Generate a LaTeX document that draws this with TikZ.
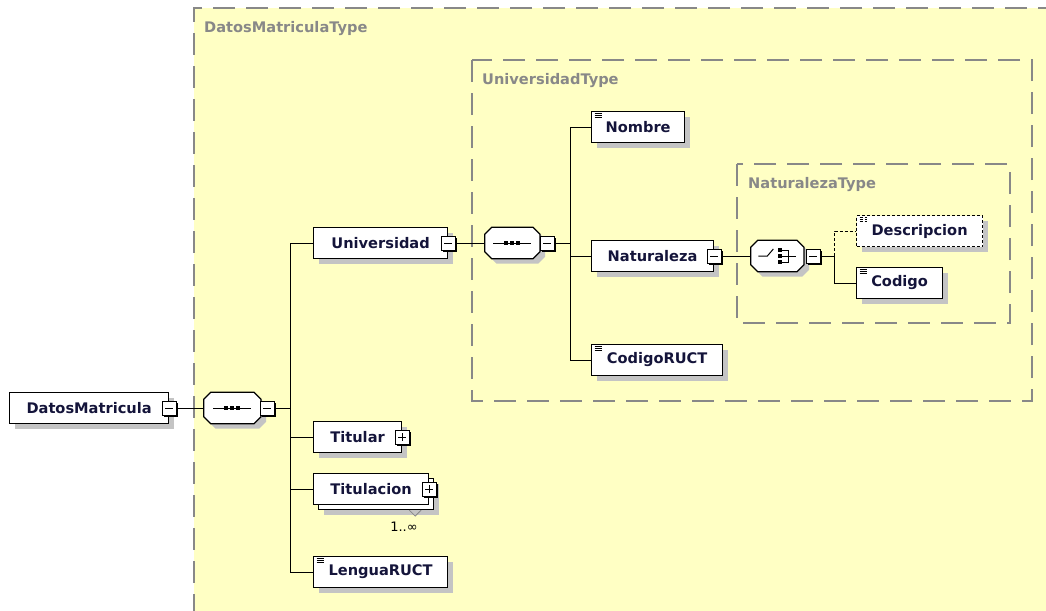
\documentclass[tikz,border=0pt]{standalone}
\usepackage{fontspec}
\usetikzlibrary{positioning,shadows}
\newfontfamily\dejavu{DejaVu Sans}
\definecolor{fondo}{HTML}{FFFFC4}
\definecolor{gris}{HTML}{888888}
\definecolor{sombra}{HTML}{C4C4C4}
\definecolor{tinta}{HTML}{14143A}

\begin{document}
\begin{tikzpicture}[x=1pt,y=-1pt, %Ojo: 1 pixel = 1pt y la y va para abajo (como en la captura)
    sombreado/.style={general shadow={fill=sombra,shadow xshift=5pt,shadow yshift=-5pt}},
    elemento/.style={draw,fill=white,line width=1.2pt,minimum width=#1pt,minimum height=31pt,inner xsep=2pt,anchor=west,
      font=\dejavu\bfseries\fontsize{14.6}{17}\selectfont,text=tinta,sombreado},
    simple/.style={path picture={\foreach \dy in {2pt,4pt,6pt}
      \draw[line width=0.8pt] ([xshift=3pt,yshift=-\dy]path picture bounding box.north west) -- ++(7pt,0pt);}}, %el iconito de las 3 rayas
    opcional/.style={dash pattern=on 3pt off 2pt},
    compositor/.style={minimum width=#1pt,minimum height=31pt,inner sep=0pt}, %solo marca el lugar, el octogono va aparte
    octo/.style={insert path={([xshift=7pt]#1.north west) -- ([xshift=-7pt]#1.north east) -- ([yshift=-7pt]#1.north east)
      -- ([yshift=7pt]#1.south east) -- ([xshift=-7pt]#1.south east) -- ([xshift=7pt]#1.south west)
      -- ([yshift=7pt]#1.south west) -- ([yshift=-7pt]#1.north west) -- cycle}},
    boton/.style={draw,fill=white,line width=0.9pt,minimum size=14pt,inner sep=0pt,
      general shadow={fill=black,shadow xshift=1.5pt,shadow yshift=-1.5pt}},
    menos/.style={boton,path picture={\draw[line width=0.8pt] ([xshift=3pt]path picture bounding box.west) -- ([xshift=-3pt]path picture bounding box.east);}},
    mas/.style={boton,path picture={\draw[line width=0.8pt] ([xshift=3pt]path picture bounding box.west) -- ([xshift=-3pt]path picture bounding box.east);
      \draw[line width=0.8pt] ([yshift=-3pt]path picture bounding box.north) -- ([yshift=3pt]path picture bounding box.south);}},
    tipo/.style={anchor=west,inner sep=0pt,text=gris,font=\dejavu\bfseries\fontsize{14.6}{17}\selectfont},
    marco/.style={draw=gris,line width=1.4pt,dash pattern=on 22pt off 11pt},
    linea/.style={line width=1pt}]
    \useasboundingbox (0,0) rectangle (1046,610);

    %Los marcos de los tipos (el de afuera se sale de la hoja, a proposito)
    \fill[fondo] (194,8) rectangle (1060,620);
    \draw[marco] (1060,8) -- (194,8) -- (194,620);
    \draw[marco] (472,60) rectangle (1032,401);
    \draw[marco] (737,164) rectangle (1010,323);
    \node[tipo] (tdatos) at (204,29) {DatosMatriculaType};
    \node[tipo] (tuniv) at (482,81) {UniversidadType};
    \node[tipo] (tnatu) at (748,185) {NaturalezaType};

    %La raiz y su secuencia
    \node[elemento=159] (datos) at (9,408) {DatosMatricula};
    \node[menos] (m0) at (datos.east) {};
    \node[compositor=57,right=27pt of m0] (sec1) {};
    \fill[sombra,transform canvas={xshift=5pt,yshift=-5pt}] [octo=sec1];
    \filldraw[fill=white,line width=1.2pt] [octo=sec1];
    \node[menos] (ms1) at ([xshift=6pt]sec1.east) {};
    \coordinate[right=16pt of ms1] (bus1);

    %Hijos de DatosMatricula
    \node[elemento=134] (univ) at (313,243) {Universidad};
    \node[menos] (mu) at (univ.east) {};
    \node[elemento=88] (titular) at (313,437) {Titular};
    \node[mas] (mt) at (titular.east) {};
    \node[elemento=115] (titulacion2) at (318,494) {}; %la copia de atras (es 1..infinito)
    \node[sombreado/.style={},elemento=115] (titulacion) at (313,489) {Titulacion}; %esta sin sombra, si no tapa la de atras
    \node[mas] (mtt) at (titulacion.east) {};
    \node[elemento=134,simple] (lengua) at (313,572) {LenguaRUCT};
    \node[inner sep=0pt,font=\dejavu\fontsize{13}{15}\selectfont] (card) at (404,527) {1..∞};

    %Universidad por dentro
    \node[compositor=55,right=29pt of mu] (sec2) {};
    \fill[sombra,transform canvas={xshift=5pt,yshift=-5pt}] [octo=sec2];
    \filldraw[fill=white,line width=1.2pt] [octo=sec2];
    \node[menos] (ms2) at ([xshift=7pt]sec2.east) {};
    \coordinate[right=16pt of ms2] (bus2);
    \node[elemento=93,simple] (nombre) at (591,127) {Nombre};
    \node[elemento=122] (natu) at (591,256) {Naturaleza};
    \node[menos] (mn) at (natu.east) {};
    \node[elemento=131,simple] (ruct) at (591,360) {CodigoRUCT};

    %Naturaleza es un choice
    \node[compositor=53,right=29pt of mn] (elec) {};
    \fill[sombra,transform canvas={xshift=5pt,yshift=-5pt}] [octo=elec];
    \filldraw[fill=white,line width=1.2pt] [octo=elec];
    \node[menos] (me) at ([xshift=9pt]elec.east) {};
    \coordinate[right=14pt of me] (bus3);
    \node[elemento=126,simple,opcional] (desc) at (856,231) {Descripcion};
    \node[elemento=86,simple] (codigo) at (856,283) {Codigo};

    %Dibujitos de adentro de los compositores
    \foreach \c in {sec1,sec2}{
      \draw[linea] ([xshift=-19pt]\c.center) -- ([xshift=19pt]\c.center);
      \foreach \dx in {-6pt,0pt,6pt} \fill ([xshift=\dx]\c.center) +(-2pt,-2pt) rectangle +(2pt,2pt);
    }
    \draw[linea] ([xshift=-19pt]elec.center) -- ++(9pt,0pt) -- ++(6pt,7pt); %el interruptor
    \foreach \dy in {-6pt,0pt,6pt} \fill ([xshift=3pt,yshift=\dy]elec.center) +(-2pt,-2pt) rectangle +(2pt,2pt);
    \draw[linea] ([xshift=5pt,yshift=6pt]elec.center) -- ([xshift=11pt,yshift=6pt]elec.center) -- ([xshift=11pt,yshift=-6pt]elec.center) -- ([xshift=5pt,yshift=-6pt]elec.center);
    \draw[linea] ([xshift=5pt]elec.center) -- ([xshift=19pt]elec.center);
    \draw[gris,line width=0.8pt] ([xshift=-25pt]titulacion2.south east) -- ++(6pt,-6pt) -- ++(6pt,6pt);

    %Las lineas (todas de nodo a nodo)
    \draw[linea] (m0.east) -- (sec1.west);
    \draw[linea] (ms1.east) -- (bus1);
    \foreach \n in {univ,titular,titulacion,lengua} \draw[linea] (bus1) |- (\n.west);
    \draw[linea] (mu.east) -- (sec2.west);
    \draw[linea] (ms2.east) -- (bus2);
    \foreach \n in {nombre,natu,ruct} \draw[linea] (bus2) |- (\n.west);
    \draw[linea] (mn.east) -- (elec.west);
    \draw[linea] (me.east) -- (bus3);
    \draw[linea,opcional] (bus3) |- (desc.west); %Descripcion es opcional, va punteada
    \draw[linea] (bus3) |- (codigo.west);
\end{tikzpicture}
\end{document}
